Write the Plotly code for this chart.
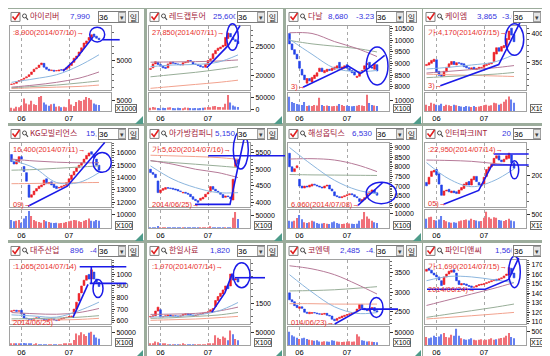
import plotly.graph_objects as go

# ---------------------------------------------------------------- data
DAYS = list(range(36))
MONTH_TICK_DAYS = [4, 23]
MONTH_TICK_TEXT = ["06", "07"]
MA_DAYS = [0, 9, 18, 27, 35]

STOCK_NAMES = ["아이리버", "레드캡투어", "다날", "케이엠", "KG모빌리언스", "아가방컴퍼니",
               "해성옵틱스", "인터파크INT", "대주산업", "한일사료", "코엔텍", "파인디앤씨"]
LAST_PRICE = ["7,990", "25,600", "8,680", "3,865", "15,050", "5,150",
              "6,530", "20,850", "896", "1,820", "2,485", "1,560"]
CHANGE = ["", "", "-3.23", "-3.01", "", "", "", "", "-4.0", "", "-4.1", ""]

OPEN_1 = [1500,1550,1650,1900,2050,2250,2450,2650,2950,3350,3750,3950,4350,4550,4000,3700,3500,3550,3450,3450,3650,3600,3700,3900,4250,4700,5300,5650,6250,6850,7400,7900,8300,8800,8500,8200]
CLOSE_1 = [1550,1600,1900,2050,2200,2400,2600,2900,3300,3700,3900,4300,4600,4000,3700,3500,3600,3400,3500,3600,3550,3700,3900,4200,4600,5300,5600,6200,6800,7500,7800,8300,8700,8400,8200,7990]
VOLUME_1 = [1500,1200,2000,1800,2500,5800,3500,3000,4800,3200,2800,6500,7000,4000,3000,2500,3200,3400,2000,2200,1800,2000,1800,5500,3000,2400,4200,5000,4600,5200,6500,6000,5200,3500,3000,2800]
MA_BLUE_1 = [1800, 2300, 2900, 4200, 5800]
MA_MAROON_1 = [1100, 1400, 1800, 2400, 3300]
MA_GREEN_1 = [1000, 1200, 1400, 1700, 2000]
MA_SALMON_1 = [900, 1000, 1100, 1200, 1400]

OPEN_2 = [21000,21300,22000,22300,21900,21600,21400,21300,22000,22300,22100,22000,21900,21800,22200,22300,22600,22300,22000,21900,21700,21500,21400,21900,22600,22900,23800,24400,24700,25000,25200,26500,27400,26700,26300,26000]
CLOSE_2 = [21200,22000,22400,21900,21600,21300,21200,22000,22300,22100,22000,21900,21800,22200,22300,22600,22500,22000,21900,21700,21500,21400,21900,22600,22900,23800,24400,24800,25000,25300,26700,27500,26800,26300,26000,25600]
VOLUME_2 = [8000,12000,9000,7000,6000,8000,7000,9000,10000,7000,6000,8000,7000,6000,9000,8000,7000,6000,7000,6000,7000,8000,9000,12000,10000,15000,16000,12000,11000,10000,25000,60000,30000,18000,14000,12000]
MA_BLUE_2 = [21500, 21800, 21900, 22300, 23600]
MA_MAROON_2 = [22300, 22350, 22400, 22500, 22700]
MA_GREEN_2 = [19700, 20100, 20500, 21000, 21500]
MA_SALMON_2 = [17650, 18000, 18350, 18700, 19100]

OPEN_3 = [10300,9850,9600,9400,9100,8750,8500,8150,8350,8200,8350,8450,8650,8800,8600,8650,8750,8700,8750,8800,9050,8750,8800,8950,8800,8700,8650,8400,8450,8600,8750,8950,9050,8850,8750,8950]
CLOSE_3 = [9850,9600,9400,9200,8800,8500,8300,8350,8250,8400,8500,8600,8800,8650,8700,8750,8700,8800,8850,8900,8800,8850,8900,8800,8700,8600,8500,8450,8600,8700,8900,9000,8850,8800,8970,8680]
VOLUME_3 = [14000,9000,8000,7000,6500,6000,9000,5000,5500,5000,6000,5500,13000,6000,5000,5500,5000,4800,5000,5200,7000,6000,5000,5500,5000,4800,5000,5200,6000,5500,5000,16000,8000,6000,5500,5000]
MA_BLUE_3 = [10050, 9400, 8800, 8650, 8700]
MA_MAROON_3 = [10330, 10300, 9950, 9650, 9300]
MA_GREEN_3 = [10000, 9850, 9750, 9650, 9500]
MA_SALMON_3 = None

OPEN_4 = [3450,3460,3490,3520,3550,3350,3300,3270,3340,3420,3470,3520,3460,3500,3490,3480,3440,3410,3390,3420,3380,3400,3410,3420,3450,3470,3480,3520,3650,3760,3700,3760,3800,3900,4100,3990]
CLOSE_4 = [3470,3500,3540,3560,3330,3280,3260,3350,3420,3480,3520,3470,3500,3490,3470,3430,3410,3400,3410,3390,3400,3420,3420,3460,3470,3490,3500,3680,3760,3700,3780,3800,3920,4050,3980,3865]
VOLUME_4 = [30,25,40,35,30,28,35,25,30,28,25,30,28,25,22,20,25,22,20,25,20,22,25,28,30,26,28,40,38,30,35,45,55,70,55,40]
MA_BLUE_4 = [3390, 3420, 3460, 3510, 3640]
MA_MAROON_4 = [3320, 3350, 3380, 3410, 3450]
MA_GREEN_4 = [3240, 3260, 3280, 3300, 3330]
MA_SALMON_4 = [3300, 3290, 3280, 3270, 3260]

OPEN_5 = [15870,15300,15100,15300,15700,14900,14400,13400,12400,12600,12900,13100,13250,13400,13900,13500,13650,13450,13300,13150,13200,13300,13350,13550,13850,14200,14500,14800,15000,15200,15500,15750,16100,15900,15500,15000]
CLOSE_5 = [15300,15100,15400,15700,15500,14500,13700,12400,12600,12900,13100,13300,13400,13800,13500,13600,13400,13200,13100,13200,13300,13350,13600,13900,14200,14500,14800,15000,15200,15500,15800,16000,15900,15600,15000,14600]
VOLUME_5 = [6000,5000,5500,6000,4000,7000,9000,12500,9000,6000,5000,4500,4000,6000,5000,4500,4000,3800,4000,3500,3800,4000,4500,5000,5500,6000,5800,5000,4500,5500,6000,7000,5500,5000,6000,5500]
MA_BLUE_5 = [15400, 14800, 13600, 13600, 14400]
MA_MAROON_5 = [15500, 15350, 15250, 15200, 15200]
MA_GREEN_5 = [14600, 14650, 14750, 14850, 14950]
MA_SALMON_5 = [13500, 13520, 13550, 13580, 13600]

OPEN_6 = [5000,4900,4850,4650,4300,4370,4400,4450,4440,4430,4410,4390,4350,4290,4310,4280,4250,4180,4100,4060,4070,4110,4170,4260,4320,4480,4400,4340,4300,4240,4160,4200,4170,4080,5080,5300]
CLOSE_6 = [4900,4850,4750,4300,4380,4420,4450,4430,4420,4400,4380,4350,4330,4310,4280,4250,4180,4100,4060,4010,4130,4160,4250,4300,4480,4400,4350,4300,4250,4150,4200,4180,4120,4700,5300,5150]
VOLUME_6 = [3000,2500,2000,8000,3000,2500,2000,2200,1800,2000,1500,1800,1500,1600,1400,1500,1800,2000,1800,3000,2500,2000,2500,3000,6000,3000,2500,2000,1800,2000,1800,2000,2500,40000,62000,35000]
MA_BLUE_6 = [5100, 4700, 4450, 4300, 4300]
MA_MAROON_6 = [5260, 5150, 5000, 4900, 4750]
MA_GREEN_6 = [5250, 5200, 5150, 5100, 5050]
MA_SALMON_6 = [5420, 5400, 5380, 5350, 5300]

OPEN_7 = [8700,8000,7750,7950,7350,7000,6900,7000,6950,7000,7100,7050,7000,6950,6900,7000,7050,6850,6700,6500,6450,6400,6450,6500,6550,6600,6550,6450,6350,6200,6300,6400,6600,6700,6800,6650]
CLOSE_7 = [8000,7750,7900,8050,7000,6900,7000,6950,7050,7100,7050,7000,6950,6900,7000,7050,6850,6750,6500,6450,6400,6450,6500,6550,6600,6550,6450,6400,6200,6300,6400,6600,6700,6800,6650,6530]
VOLUME_7 = [5000,4500,5000,7000,9000,6000,4000,3500,4000,5000,4500,3500,3000,3200,3500,3000,2800,4000,4500,3500,3000,2800,3000,3500,3200,3000,2800,3000,5000,6000,11000,8000,6500,5000,4000,3500]
MA_BLUE_7 = [9000, 8100, 7300, 6800, 6600]
MA_MAROON_7 = [8400, 8420, 8350, 8100, 7750]
MA_GREEN_7 = [7600, 7580, 7570, 7560, 7550]
MA_SALMON_7 = None

OPEN_8 = [19200,19000,19900,20400,20700,20200,18900,17700,18200,18400,18000,18200,18100,17900,18300,18500,18900,19300,18900,19500,19900,19200,18800,19000,19900,20600,21000,21300,22000,22300,21800,21600,21900,22000,22400,21500]
CLOSE_8 = [18800,19800,20500,20600,20100,19000,17700,18200,18300,18100,18200,18000,17900,18300,18600,19000,19200,18900,19600,19900,19300,18900,19000,19800,20700,21000,21300,22000,22300,21800,21600,21900,22300,22600,21500,20850]
VOLUME_8 = [35000,40000,42000,30000,28000,32000,45000,30000,25000,22000,20000,22000,20000,25000,28000,30000,32000,28000,35000,30000,28000,25000,26000,38000,60000,40000,35000,40000,38000,30000,28000,26000,30000,35000,28000,25000]
MA_BLUE_8 = [21500, 19600, 18700, 19400, 20770]
MA_MAROON_8 = [21800, 21750, 21650, 21400, 21200]
MA_GREEN_8 = None
MA_SALMON_8 = None

OPEN_9 = [680,685,690,682,690,660,622,615,612,612,620,625,618,615,610,606,612,615,606,602,612,620,626,630,636,660,700,770,840,905,950,1000,960,1020,960,930]
CLOSE_9 = [685,690,680,685,660,620,615,612,610,620,625,618,615,608,605,612,615,605,600,612,618,625,630,635,640,700,760,835,900,950,990,960,1040,960,930,896]
VOLUME_9 = [5000,4000,3500,4000,6000,8000,5000,4000,3500,3000,3500,3000,2800,3000,2500,2800,3000,2500,2200,2500,3000,3500,4000,3500,4000,20000,45000,38000,50000,42000,35000,48000,52000,40000,30000,25000]
MA_BLUE_9 = [650, 640, 630, 686, 760]
MA_MAROON_9 = [670, 660, 655, 670, 705]
MA_GREEN_9 = [615, 618, 622, 630, 643]
MA_SALMON_9 = [600, 603, 606, 610, 620]

OPEN_10 = [1290,1300,1310,1380,1400,1290,1300,1310,1320,1300,1310,1305,1300,1310,1330,1340,1330,1320,1310,1320,1330,1340,1350,1360,1370,1400,1450,1540,1600,1640,1700,1770,1760,1930,1850,1870]
CLOSE_10 = [1300,1310,1380,1440,1290,1300,1310,1320,1300,1310,1305,1300,1310,1330,1340,1330,1320,1310,1320,1330,1340,1350,1360,1370,1400,1420,1540,1600,1650,1700,1760,1720,1940,1850,1870,1820]
VOLUME_10 = [5000,4000,15000,12000,6000,4000,3500,3000,3000,2500,2500,3000,2800,3500,3000,2500,2500,2200,2500,2800,3000,2500,3000,3500,5000,8000,40000,30000,25000,35000,30000,20000,60000,45000,25000,20000]
MA_BLUE_10 = [1290, 1300, 1320, 1380, 1510]
MA_MAROON_10 = [1330, 1335, 1345, 1380, 1440]
MA_GREEN_10 = [1270, 1280, 1300, 1320, 1360]
MA_SALMON_10 = [1240, 1250, 1260, 1280, 1300]

OPEN_11 = [2980,2800,2750,2660,2580,2620,2560,2480,2440,2450,2470,2460,2440,2420,2430,2450,2400,2380,2300,2270,2320,2340,2370,2400,2420,2440,2470,2490,2570,2680,2580,2540,2520,2560,2600,2520]
CLOSE_11 = [2800,2750,2650,2600,2620,2580,2480,2450,2480,2470,2460,2440,2430,2440,2450,2400,2380,2300,2260,2320,2350,2380,2400,2420,2440,2470,2480,2560,2680,2580,2540,2520,2570,2600,2510,2485]
VOLUME_11 = [55000,40000,35000,30000,25000,28000,30000,25000,22000,20000,18000,20000,15000,14000,16000,15000,14000,20000,18000,15000,14000,13000,14000,15000,16000,14000,15000,45000,35000,20000,18000,15000,16000,14000,13000,12000]
MA_BLUE_11 = [3450, 3000, 2620, 2450, 2470]
MA_MAROON_11 = [3680, 3600, 3450, 3200, 2950]
MA_GREEN_11 = [3030, 3040, 3060, 3100, 3140]
MA_SALMON_11 = [2700, 2700, 2690, 2690, 2690]

OPEN_12 = [1630,1660,1640,1610,1590,1570,1530,1490,1570,1600,1620,1645,1610,1530,1485,1500,1495,1480,1475,1462,1465,1480,1485,1490,1500,1510,1520,1530,1545,1535,1550,1560,1585,1590,1660,1610]
CLOSE_12 = [1650,1640,1610,1590,1570,1540,1480,1570,1600,1630,1640,1620,1530,1490,1500,1490,1480,1470,1460,1465,1480,1490,1495,1500,1510,1520,1530,1540,1530,1550,1560,1580,1600,1670,1600,1560]
VOLUME_12 = [30000,25000,28000,35000,30000,32000,40000,45000,30000,28000,38000,35000,60000,35000,25000,22000,20000,22000,25000,20000,18000,20000,22000,18000,20000,22000,25000,20000,22000,24000,26000,28000,35000,45000,30000,25000]
MA_BLUE_12 = [1530, 1575, 1570, 1540, 1510]
MA_MAROON_12 = [1270, 1330, 1390, 1450, 1510]
MA_GREEN_12 = [1145, 1180, 1215, 1250, 1285]
MA_SALMON_12 = [1128, 1145, 1162, 1180, 1197]

HIGH_NOTE = [":8,900(2014/07/10)→", "27,850(2014/07/11)→", "", "가:4,170(2014/07/15)→",
             "16,400(2014/07/11)→", "가:5,620(2014/07/16)→", "", ":22,950(2014/07/14)→",
             ":1,065(2014/07/14)", ":1,970(2014/07/14)→", "", "가:1,690(2014/07/15)→"]
LOW_NOTE = ["", "", "3)→", "3)→", "09)→", "2014/06/25)→", "6,060(2014/07/08)→", "05)→",
            "2014/06/25)", "", "014/06/23)→", "2014/06/24)→"]
PRICE_TICKS = [[5000], [20000, 25000], [8000, 8500, 9000, 9500, 10000, 10500], [3500, 4000],
               [12000, 13000, 14000, 15000, 16000], [4000, 4500, 5000, 5500],
               [6000, 6500, 7000, 7500, 8000, 8500, 9000], [20000], [600, 700, 800, 900, 1000],
               [1500], [2500, 3000, 3500], [1100, 1200, 1300, 1400, 1500, 1600, 1700]]
VOLUME_TICKS = [[5000], [0, 50000], [10000], [], [10000], [50000], [10000], [50000],
                [50000], [50000], [50000], [50000]]
VOLUME_UNIT = ["X1000", "", "X100", "X10", "X100", "X100", "X100", "X10", "X100", "X100", "X100", "X10"]

OPENS = [OPEN_1, OPEN_2, OPEN_3, OPEN_4, OPEN_5, OPEN_6, OPEN_7, OPEN_8, OPEN_9, OPEN_10, OPEN_11, OPEN_12]
CLOSES = [CLOSE_1, CLOSE_2, CLOSE_3, CLOSE_4, CLOSE_5, CLOSE_6, CLOSE_7, CLOSE_8, CLOSE_9, CLOSE_10, CLOSE_11, CLOSE_12]
VOLUMES = [VOLUME_1, VOLUME_2, VOLUME_3, VOLUME_4, VOLUME_5, VOLUME_6, VOLUME_7, VOLUME_8, VOLUME_9, VOLUME_10, VOLUME_11, VOLUME_12]
MA_SETS = [
    [MA_SALMON_1, MA_GREEN_1, MA_MAROON_1, MA_BLUE_1], [MA_SALMON_2, MA_GREEN_2, MA_MAROON_2, MA_BLUE_2],
    [MA_SALMON_3, MA_GREEN_3, MA_MAROON_3, MA_BLUE_3], [MA_SALMON_4, MA_GREEN_4, MA_MAROON_4, MA_BLUE_4],
    [MA_SALMON_5, MA_GREEN_5, MA_MAROON_5, MA_BLUE_5], [MA_SALMON_6, MA_GREEN_6, MA_MAROON_6, MA_BLUE_6],
    [MA_SALMON_7, MA_GREEN_7, MA_MAROON_7, MA_BLUE_7], [MA_SALMON_8, MA_GREEN_8, MA_MAROON_8, MA_BLUE_8],
    [MA_SALMON_9, MA_GREEN_9, MA_MAROON_9, MA_BLUE_9], [MA_SALMON_10, MA_GREEN_10, MA_MAROON_10, MA_BLUE_10],
    [MA_SALMON_11, MA_GREEN_11, MA_MAROON_11, MA_BLUE_11], [MA_SALMON_12, MA_GREEN_12, MA_MAROON_12, MA_BLUE_12],
]

# ---------------------------------------------------------------- layout / style
W, H = 550, 356
COL_X = [0, 139, 278, 415]
ROW_Y = [0, 118, 236]
X_RANGE = [-0.6, 39.8]
PRICE_RANGE = [[640, 9990], [17300, 28760], [7840, 10630], [3020, 4140], [11580, 16820], [3860, 5790],
               [5900, 9240], [16300, 23800], [568, 1126], [1180, 2155], [2167, 3833], [1072, 1749]]
PRICE_MINOR = [1000, 1000, 100, 100, 200, 100, 100, 1000, 20, 100, 100, 20]
VOLUME_RANGE = [[0, 8200], [-5200, 67000], [0, 17500], [0, 85], [0, 13100], [0, 69000], [0, 12200],
                [0, 65700], [0, 69000], [0, 73000], [0, 73000], [0, 65700]]
LOW_NOTE_Y = [0, 0, 78.5, 77.3, 79.3, 79.3, 79.3, 78.3, 80, 0, 80, 47.3]
PRICE_X = [62, 66, 42, 54, 78, 68, 66, 79, 62, 63, 54, 72]
CHANGE_X = [88, 90, 70, 79, 90, 90, 90, 90, 82, 90, 80, 90]
HEADER_CLIP = [20, 88.5]
DRAWINGS = [
    dict(ell=[(81.7, 18.3, 96.7, 33.3)], lines=[[(55, 62.7), (68.3, 50), (85, 28.3)], [(95, 31), (111.7, 31)]]),
    dict(ell=[(79.7, 15, 91.3, 41.7)], lines=[[(59.7, 59.3), (81.3, 36.7), (93, 16.7)]]),
    dict(ell=[(80.3, 38.3, 102, 76.7)], lines=[[(17, 79), (62, 57.3), (74.3, 65), (83, 59.3), (98.7, 46.7)]]),
    dict(ell=[(82.3, 15, 100.7, 46.7)], lines=[[(17.3, 77.3), (75.7, 56), (97.3, 13)]]),
    dict(ell=[(85, 26.7, 103.3, 46.7)], lines=[[(20, 81), (59.3, 60.7), (96.7, 16.7)]]),
    dict(ell=[(86.3, 5, 101.3, 43.3)], lines=[[(48, 79), (83, 79), (98, 8.3)], [(61.3, 30), (138, 30)]]),
    dict(ell=[(80.3, 56.7, 110.3, 78.3)], lines=[[(72, 80), (97, 56.7)]]),
    dict(ell=[(87.3, 35, 95.7, 53.3)], lines=[[(70.7, 28.3), (105.7, 28.3)],
                                               [(20.7, 79), (55.7, 65), (69, 39.3), (105.7, 39.3)]]),
    dict(ell=[(85, 36.7, 95, 55)], lines=[[(71.7, 24), (118.3, 24)], [(83.3, 24), (83.3, 40.7)],
                                          [(81.7, 40.7), (118.3, 40.7)], [(65, 75), (80, 41.7)]]),
    dict(ell=[(86.3, 20, 103, 45)], lines=[[(88, 35), (118, 35)], [(64.7, 70), (78, 50), (85.3, 30.7)]]),
    dict(ell=[(83.7, 55, 97, 75)], lines=[[(75.3, 66.7), (112, 66.7)], [(48.7, 81.7), (75.3, 66.7)]]),
    dict(ell=[(85.7, 13.3, 97.3, 45)], lines=[[(4, 46.7), (62.3, 46.7), (85.7, 36.7), (95.7, 15)]]),
]

GAP = "#9CAC9C"
BOX = "#A2A2A2"
UP, DOWN = "#EC1C24", "#2040E8"
UP_V, DOWN_V = "#F07078", "#6680F0"
MA_COLORS = ["#F2A28E", "#98AE98", "#B67A98", "#8CB6DE"]
DRAW_BLUE = "#1A1AE8"
LATIN = "Liberation Sans"
CJK = "Noto Sans CJK KR"
TICK_SIZE = 7


def axn(letter, n):
    return f"{letter}axis" if n == 1 else f"{letter}axis{n}"


def ref(letter, n):
    return letter if n == 1 else f"{letter}{n}"


def pxr(c, rx):
    return (COL_X[c] + rx) / W


def pyr(r, ry):
    return 1 - (ROW_Y[r] + ry) / H


fig = go.Figure()
layout = dict(width=W, height=H, margin=dict(l=0, r=0, t=0, b=0), paper_bgcolor=GAP,
              plot_bgcolor="white", showlegend=False,
              font=dict(family=LATIN, size=7, color="#000000"))
shapes, annots = [], []

for k in range(12):
    r, c = divmod(k, 4)
    pa, va, ha = 2 * k + 1, 2 * k + 2, 25 + k
    xd = [pxr(c, 2), pxr(c, 103)]
    common_x = dict(domain=xd, range=X_RANGE, tickmode="array", tickvals=MONTH_TICK_DAYS,
                    ticktext=MONTH_TICK_TEXT, showgrid=True, gridcolor="#A8A8A8", griddash="dot",
                    gridwidth=1, showline=True, mirror=True, linecolor=BOX, linewidth=1,
                    zeroline=False, ticks="", fixedrange=True)
    layout[axn("x", pa)] = dict(common_x, anchor=ref("y", pa), showticklabels=False)
    layout[axn("x", va)] = dict(common_x, anchor=ref("y", va), showticklabels=True,
                                tickfont=dict(size=7.5, family=LATIN))
    layout[axn("y", pa)] = dict(domain=[pyr(r, 82), pyr(r, 17)], anchor=ref("x", pa), side="right",
                                range=PRICE_RANGE[k], tickmode="array", tickvals=PRICE_TICKS[k],
                                ticktext=[str(v) for v in PRICE_TICKS[k]], ticks="outside", ticklen=3,
                                tickcolor="#333333", tickfont=dict(size=TICK_SIZE, family=LATIN),
                                showgrid=False, zeroline=False, showline=True, mirror=True,
                                linecolor=BOX, fixedrange=True,
                                minor=dict(ticks="outside", ticklen=2, dtick=PRICE_MINOR[k], tick0=0,
                                           tickcolor="#666666", showgrid=False))
    layout[axn("y", va)] = dict(domain=[pyr(r, 103), pyr(r, 85)], anchor=ref("x", va), side="right",
                                range=VOLUME_RANGE[k], tickmode="array", tickvals=VOLUME_TICKS[k],
                                ticktext=[str(v) for v in VOLUME_TICKS[k]], ticks="outside", ticklen=3,
                                tickcolor="#333333", tickfont=dict(size=TICK_SIZE, family=LATIN),
                                showgrid=False, zeroline=False, showline=True, mirror=True,
                                linecolor=BOX, fixedrange=True)
    layout[axn("x", ha)] = dict(domain=[pxr(c, HEADER_CLIP[0]), pxr(c, HEADER_CLIP[1])], range=HEADER_CLIP,
                                anchor=ref("y", ha), visible=False, fixedrange=True)
    layout[axn("y", ha)] = dict(domain=[pyr(r, 15), pyr(r, 2)], range=[15, 2], anchor=ref("x", ha),
                                visible=False, fixedrange=True)

    op, cl, vol = OPENS[k], CLOSES[k], VOLUMES[k]
    for ma, col in zip(MA_SETS[k], MA_COLORS):
        if ma is None:
            continue
        fig.add_trace(go.Scatter(x=MA_DAYS, y=ma, mode="lines", line=dict(color=col, width=1, shape="spline"),
                                 hoverinfo="skip", xaxis=ref("x", pa), yaxis=ref("y", pa)))
    cols = [UP if c2 >= o2 else DOWN for o2, c2 in zip(op, cl)]
    fig.add_trace(go.Bar(x=DAYS, y=[c2 - o2 for o2, c2 in zip(op, cl)], base=op, width=0.72,
                         marker=dict(color=cols, line=dict(color=cols, width=0.6)),
                         xaxis=ref("x", pa), yaxis=ref("y", pa)))
    vcols = [UP_V if c2 >= o2 else DOWN_V for o2, c2 in zip(op, cl)]
    fig.add_trace(go.Bar(x=DAYS, y=vol, width=0.45, marker=dict(color=vcols, line=dict(width=0)),
                         xaxis=ref("x", va), yaxis=ref("y", va)))

    fig.add_trace(go.Scatter(x=[22], y=[8.5], mode="text", text=[STOCK_NAMES[k]], textposition="middle right",
                             textfont=dict(family=CJK, size=8, color="#A3233A"), cliponaxis=True,
                             hoverinfo="skip", xaxis=ref("x", ha), yaxis=ref("y", ha)))
    fig.add_trace(go.Scatter(x=[PRICE_X[k]], y=[8.5], mode="text", text=[LAST_PRICE[k]],
                             textposition="middle right", textfont=dict(family=LATIN, size=8, color="#3434E0"),
                             cliponaxis=True, hoverinfo="skip", xaxis=ref("x", ha), yaxis=ref("y", ha)))
    if CHANGE[k]:
        fig.add_trace(go.Scatter(x=[CHANGE_X[k]], y=[8.5], mode="text", text=[CHANGE[k]],
                                 textposition="middle right", textfont=dict(family=LATIN, size=8, color="#3434E0"),
                                 cliponaxis=True, hoverinfo="skip", xaxis=ref("x", ha), yaxis=ref("y", ha)))

    pw = min(136, W - COL_X[c])
    shapes.append(dict(type="rect", xref="paper", yref="paper", x0=pxr(c, 0), x1=pxr(c, pw),
                       y0=pyr(r, 115), y1=pyr(r, 0), fillcolor="white", line=dict(width=0), layer="below"))
    gx = min(pw, 135)
    shapes.append(dict(type="path", xref="paper", yref="paper", layer="above",
                       path=f"M {pxr(c, gx)},{pyr(r, 108)} L {pxr(c, gx)},{pyr(r, 116)} L {pxr(c, gx - 8)},{pyr(r, 116)} Z",
                       fillcolor="#4E9C8A", line=dict(width=0)))
    shapes.append(dict(type="rect", xref="paper", yref="paper", x0=pxr(c, 3), x1=pxr(c, 12),
                       y0=pyr(r, 12.5), y1=pyr(r, 3.5), fillcolor="white", line=dict(color="#808080", width=1)))
    shapes.append(dict(type="path", xref="paper", yref="paper",
                       path=f"M {pxr(c, 4.5)},{pyr(r, 7.5)} L {pxr(c, 7)},{pyr(r, 10.5)} L {pxr(c, 11.5)},{pyr(r, 4)}",
                       line=dict(color="#E02020", width=1.6)))
    shapes.append(dict(type="circle", xref="paper", yref="paper", x0=pxr(c, 14.5), x1=pxr(c, 18.5),
                       y0=pyr(r, 9), y1=pyr(r, 5), line=dict(color="#505050", width=1)))
    shapes.append(dict(type="line", xref="paper", yref="paper", x0=pxr(c, 18), x1=pxr(c, 20),
                       y0=pyr(r, 8.5), y1=pyr(r, 11), line=dict(color="#505050", width=1.2)))

    annots.append(dict(x=pxr(c, 90), y=pyr(r, 8), xref="paper", yref="paper", xanchor="left", yanchor="middle",
                       text="36", showarrow=False, width=26, height=10, align="left", bgcolor="white",
                       bordercolor="#7C7C7C", borderwidth=1, borderpad=0,
                       font=dict(family=LATIN, size=8, color="#000000")))
    annots.append(dict(x=pxr(c, 110), y=pyr(r, 8), xref="paper", yref="paper", xanchor="left", yanchor="middle",
                       text="▾", showarrow=False, width=6, height=8, bgcolor="#E4E4E4",
                       bordercolor="#A0A0A0", borderwidth=1, borderpad=0,
                       font=dict(family=LATIN, size=7, color="#404040")))
    annots.append(dict(x=pxr(c, 120), y=pyr(r, 8), xref="paper", yref="paper", xanchor="left", yanchor="middle",
                       text="일", showarrow=False, width=9, height=10, bgcolor="#F2F2F2",
                       bordercolor="#8C8C8C", borderwidth=1, borderpad=0,
                       font=dict(family=CJK, size=8, color="#202020")))
    if HIGH_NOTE[k]:
        annots.append(dict(x=pxr(c, 3), y=pyr(r, 23.5), xref="paper", yref="paper", xanchor="left",
                           yanchor="middle", text=HIGH_NOTE[k], showarrow=False,
                           font=dict(family=LATIN, size=7.5, color="#E8302C")))
    if LOW_NOTE[k]:
        annots.append(dict(x=pxr(c, 3), y=pyr(r, LOW_NOTE_Y[k]), xref="paper", yref="paper", xanchor="left",
                           yanchor="middle", text=LOW_NOTE[k], showarrow=False,
                           font=dict(family=LATIN, size=7.5, color="#E8302C")))
    if VOLUME_UNIT[k]:
        annots.append(dict(x=pxr(c, 106.5), y=pyr(r, 100.5), xref="paper", yref="paper", xanchor="left",
                           yanchor="middle", text=VOLUME_UNIT[k], showarrow=False, bgcolor="white",
                           bordercolor="#707070", borderwidth=1, borderpad=0,
                           font=dict(family=LATIN, size=7, color="#000000")))

    for (x0, y0, x1, y1) in DRAWINGS[k]["ell"]:
        shapes.append(dict(type="circle", xref="paper", yref="paper", x0=pxr(c, x0), x1=pxr(c, x1),
                           y0=pyr(r, y1), y1=pyr(r, y0), line=dict(color=DRAW_BLUE, width=1.5), layer="above"))
    for pts in DRAWINGS[k]["lines"]:
        path = "M " + " L ".join(f"{pxr(c, px)},{pyr(r, py)}" for px, py in pts)
        shapes.append(dict(type="path", xref="paper", yref="paper", path=path,
                           line=dict(color=DRAW_BLUE, width=1.6), layer="above"))

layout["shapes"] = shapes
layout["annotations"] = annots
fig.update_layout(**layout)
fig.write_html("out.html")
